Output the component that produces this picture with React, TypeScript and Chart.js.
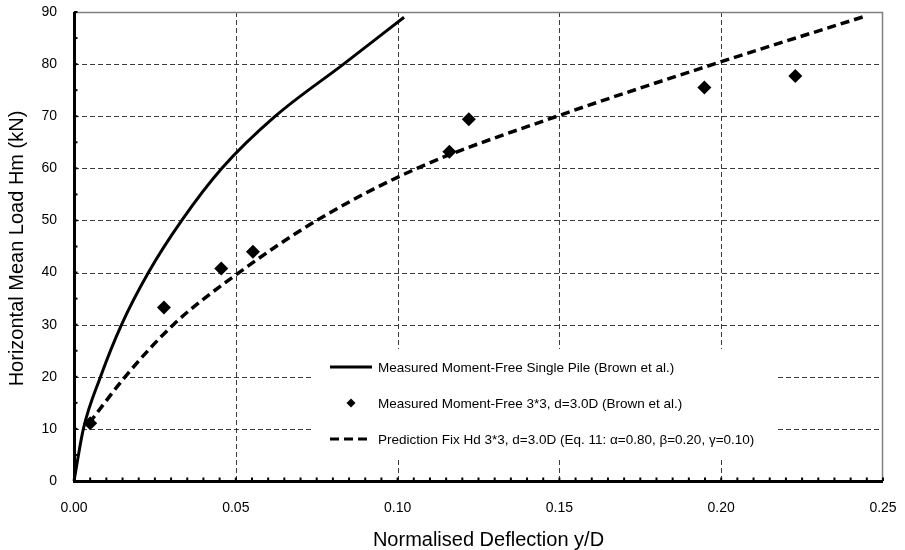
import React, { useEffect, useRef } from "react";
import { Chart, registerables } from "chart.js";

Chart.register(...registerables);

// ---- Data ----
const singlePileX = [0, 0.0029, 0.0082, 0.0147, 0.023, 0.0333, 0.0457, 0.0622, 0.0833, 0.102];
const singlePileY = [0, 10, 20, 30, 40, 50, 60, 70, 80, 89];

const groupX = [0.005, 0.0278, 0.0455, 0.0553, 0.116, 0.122, 0.1948, 0.2229];
const groupY = [11.1, 33.3, 40.8, 44.0, 63.2, 69.4, 75.5, 77.7];

const predX = [0.0047, 0.0158, 0.0307, 0.051, 0.075, 0.106, 0.1493, 0.1977, 0.244];
const predY = [11.1, 20, 30, 40, 50, 60, 70, 80, 89.1];

const seriesLabels = [
  "Measured Moment-Free Single Pile (Brown et al.)",
  "Measured Moment-Free 3*3, d=3.0D (Brown et al.)",
  "Prediction Fix Hd 3*3, d=3.0D (Eq. 11: \u03b1=0.80, \u03b2=0.20, \u03b3=0.10)",
];

const xMin = 0, xMax = 0.25, xStep = 0.05, xMinorStep = 0.005;
const yMin = 0, yMax = 90, yStep = 10, yMinorStep = 5;

const xTitle = "Normalised Deflection y/D";
const yTitle = "Horizontal Mean Load Hm (kN)";

const FONT = "'Liberation Sans', Arial, Helvetica, sans-serif";

const toPts = (xs: number[], ys: number[]) => xs.map((x, i) => ({ x, y: ys[i] }));

const framePlugin = {
  id: "frame",
  beforeDatasetsDraw(chart: any) {
    const { ctx, chartArea } = chart;
    const xs = chart.scales.x;
    const ys = chart.scales.y;
    const { left, right, top, bottom } = chartArea;
    ctx.save();
    // dashed grid
    ctx.strokeStyle = "#3a3a3a";
    ctx.lineWidth = 1;
    ctx.setLineDash([5, 3]);
    xs.ticks.forEach((t: any) => {
      const px = Math.round(xs.getPixelForValue(t.value)) + 0.5;
      if (t.value <= xMin + 1e-9 || t.value >= xMax - 1e-9) return;
      ctx.beginPath();
      ctx.moveTo(px, bottom);
      ctx.lineTo(px, top);
      ctx.stroke();
    });
    ys.ticks.forEach((t: any) => {
      const py = Math.round(ys.getPixelForValue(t.value)) + 0.5;
      if (t.value <= yMin + 1e-9 || t.value >= yMax - 1e-9) return;
      ctx.beginPath();
      ctx.moveTo(left, py);
      ctx.lineTo(right, py);
      ctx.stroke();
    });
    ctx.setLineDash([]);
    // top / right border
    ctx.strokeStyle = "#808080";
    ctx.lineWidth = 1.5;
    ctx.beginPath();
    ctx.moveTo(left, top + 0.5);
    ctx.lineTo(right - 0.5, top + 0.5);
    ctx.lineTo(right - 0.5, bottom);
    ctx.stroke();
    // axes
    ctx.strokeStyle = "#000";
    ctx.lineWidth = 3;
    ctx.beginPath();
    ctx.moveTo(left + 0.5, top);
    ctx.lineTo(left + 0.5, bottom + 0.5);
    ctx.lineTo(right, bottom + 0.5);
    ctx.stroke();
    // minor ticks
    ctx.lineWidth = 2;
    const nx = Math.round((xMax - xMin) / xMinorStep);
    for (let i = 1; i <= nx; i++) {
      const px = xs.getPixelForValue(xMin + i * xMinorStep);
      ctx.beginPath();
      ctx.moveTo(px, bottom);
      ctx.lineTo(px, bottom - 3.5);
      ctx.stroke();
    }
    const ny = Math.round((yMax - yMin) / yMinorStep);
    for (let i = 1; i <= ny; i++) {
      const py = ys.getPixelForValue(yMin + i * yMinorStep);
      ctx.beginPath();
      ctx.moveTo(left, py);
      ctx.lineTo(left + 3.5, py);
      ctx.stroke();
    }
    ctx.restore();
  },
};

const titlesPlugin = {
  id: "axisTitles",
  afterDraw(chart: any) {
    const { ctx, chartArea } = chart;
    ctx.save();
    ctx.fillStyle = "#000";
    ctx.font = `20px ${FONT}`;
    ctx.textAlign = "center";
    ctx.textBaseline = "alphabetic";
    const cx = (chartArea.left + chartArea.right) / 2 + 10;
    ctx.fillText(xTitle, cx, chartArea.bottom + 64.5);
    ctx.translate(chartArea.left - 51.5, (chartArea.top + chartArea.bottom) / 2 + 2);
    ctx.rotate(-Math.PI / 2);
    ctx.fillText(yTitle, 0, 0);
    ctx.restore();
  },
};

const legendPlugin = {
  id: "insideLegend",
  afterDraw(chart: any) {
    const { ctx, chartArea } = chart;
    const boxLeft = chartArea.left + 237;
    const boxRight = chartArea.left + 703;
    const rowY0 = chartArea.top + 355;
    const rowGap = 36;
    const boxTop = rowY0 - 18;
    const boxBottom = rowY0 + rowGap * 2 + 18;
    ctx.save();
    ctx.fillStyle = "#fff";
    ctx.fillRect(boxLeft, boxTop, boxRight - boxLeft, boxBottom - boxTop);
    const sx0 = chartArea.left + 256;
    const sx1 = sx0 + 42;
    const tx = sx1 + 6;
    chart.data.datasets.forEach((ds: any, i: number) => {
      const y = rowY0 + i * rowGap;
      ctx.strokeStyle = "#000";
      ctx.fillStyle = "#000";
      if (ds.showLine) {
        ctx.lineWidth = 3;
        ctx.setLineDash(ds.borderDash || []);
        ctx.beginPath();
        ctx.moveTo(sx0, y);
        ctx.lineTo(sx1, y);
        ctx.stroke();
        ctx.setLineDash([]);
      } else {
        const cx = (sx0 + sx1) / 2;
        const r = 4.5;
        ctx.beginPath();
        ctx.moveTo(cx, y - r);
        ctx.lineTo(cx + r, y);
        ctx.lineTo(cx, y + r);
        ctx.lineTo(cx - r, y);
        ctx.closePath();
        ctx.fill();
      }
      ctx.font = `13.5px ${FONT}`;
      ctx.textBaseline = "middle";
      ctx.textAlign = "left";
      ctx.fillStyle = "#000";
      ctx.fillText(ds.label, tx, y + 1);
    });
    ctx.restore();
  },
};

const zeroPad = (s: any) => {
  s.paddingLeft = 0;
  s.paddingRight = 0;
  s.paddingTop = 0;
  s.paddingBottom = 0;
};

export default function App() {
  const canvasRef = useRef<HTMLCanvasElement | null>(null);

  useEffect(() => {
    document.body.style.margin = "0";
    const canvas = canvasRef.current;
    if (!canvas) return;
    const chart = new Chart(canvas, {
      type: "scatter",
      data: {
        datasets: [
          {
            label: seriesLabels[0],
            data: toPts(singlePileX, singlePileY),
            showLine: true,
            borderColor: "#000",
            borderWidth: 3,
            pointRadius: 0,
            cubicInterpolationMode: "monotone",
            fill: false,
          },
          {
            label: seriesLabels[1],
            data: toPts(groupX, groupY),
            showLine: false,
            pointStyle: "rectRot",
            pointRadius: 7,
            pointBackgroundColor: "#000",
            pointBorderColor: "#000",
            pointBorderWidth: 0,
          },
          {
            label: seriesLabels[2],
            data: toPts(predX, predY),
            showLine: true,
            borderColor: "#000",
            borderWidth: 3.5,
            borderDash: [9, 5],
            pointRadius: 0,
            cubicInterpolationMode: "monotone",
            fill: false,
          },
        ],
      },
      options: {
        animation: false,
        responsive: false,
        maintainAspectRatio: false,
        clip: false as any,
        layout: { padding: { left: 0, right: 22, top: 12, bottom: 0 } },
        plugins: {
          legend: { display: false },
          tooltip: { enabled: false },
        },
        scales: {
          x: {
            type: "linear",
            min: xMin,
            max: xMax,
            grid: { display: false },
            border: { display: false },
            ticks: {
              stepSize: xStep,
              padding: 11,
              color: "#000",
              font: { family: FONT, size: 14 },
              callback: (v: any) => Number(v).toFixed(2),
              maxRotation: 0,
            },
            title: { display: false, text: xTitle },
            afterFit: (s: any) => {
              s.height = 69;
              zeroPad(s);
            },
          },
          y: {
            type: "linear",
            min: yMin,
            max: yMax,
            grid: { display: false },
            border: { display: false },
            ticks: {
              stepSize: yStep,
              padding: 9,
              color: "#000",
              font: { family: FONT, size: 14 },
            },
            title: { display: false, text: yTitle },
            afterFit: (s: any) => {
              s.width = 74;
              zeroPad(s);
            },
          },
        },
      },
      plugins: [framePlugin, legendPlugin, titlesPlugin],
    });
    return () => chart.destroy();
  }, []);

  return (
    <div style={{ width: 905, height: 550 }}>
      <canvas ref={canvasRef} width={905} height={550} />
    </div>
  );
}
